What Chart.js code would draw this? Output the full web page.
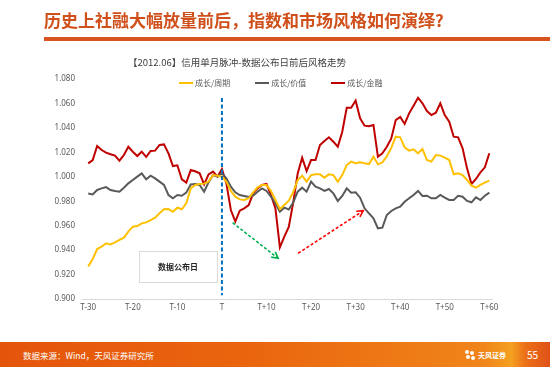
<!DOCTYPE html>
<html><head><meta charset="utf-8">
<script src="https://cdn.jsdelivr.net/npm/chart.js@4"></script>
<style>
html,body{margin:0;padding:0;background:#fff;}
#wrap{position:relative;width:550px;height:367px;overflow:hidden;font-family:"Noto Sans CJK SC","Noto Sans",sans-serif;background:#fff;}
#c{position:absolute;left:0;top:0;}
#title{position:absolute;left:44px;top:8px;font-size:17px;font-weight:bold;color:#D0501C;white-space:nowrap;line-height:24px;letter-spacing:0px;}
#bar{position:absolute;left:44px;top:37px;width:506px;height:4px;background:#D9531E;}
#sub{position:absolute;left:128px;top:55px;font-size:9.5px;color:#404040;white-space:nowrap;line-height:14px;}
#legend{position:absolute;left:179px;top:77px;height:12px;display:flex;align-items:center;white-space:nowrap;}
.li{display:flex;align-items:center;margin-right:25px;font-size:8px;color:#595959;line-height:12px;}
.sw{display:inline-block;width:14px;height:2px;margin-right:2px;}
#footer{position:absolute;left:0;top:342px;width:550px;height:25px;background:linear-gradient(90deg,#E4550C 0%,#EA650E 45%,#F0851A 88%,#F4A021 93%,#EC7018 95.5%,#DF5218 100%);}
#src{position:absolute;left:23px;top:7px;font-size:8.5px;color:#fff;white-space:nowrap;line-height:12px;}
#logo{position:absolute;left:465px;top:7px;height:12px;display:flex;align-items:center;}
#logo .ic{width:10px;height:10px;position:relative;margin-right:3px;}
#logo .ic i{position:absolute;background:#fff;border-radius:50%;width:4px;height:4px;}
#logo span{font-size:7px;color:#fff;font-weight:bold;line-height:10px;}
#pg{position:absolute;left:527px;top:6px;font-size:10px;color:#fff;line-height:13px;}
</style></head>
<body>
<div id="wrap">
  <canvas id="c" width="550" height="367"></canvas>
  <div id="title">历史上社融大幅放量前后，指数和市场风格如何演绎?</div>
  <div id="bar"></div>
  <div id="sub">【2012.06】信用单月脉冲-数据公布日前后风格走势</div>
  <div id="legend"></div>
  <div id="footer">
    <div id="src">数据来源：Wind，天风证券研究所</div>
    <div id="logo"><div class="ic"><i style="left:0;top:0"></i><i style="left:5px;top:1px"></i><i style="left:1px;top:5px"></i><i style="left:6px;top:6px"></i></div><span>天风证券</span></div>
    <div id="pg">55</div>
  </div>
</div>
<script>
// ---- data ----
const days = [-30,-29,-28,-27,-26,-25,-24,-23,-22,-21,-20,-19,-18,-17,-16,-15,-14,-13,-12,-11,-10,-9,-8,-7,-6,-5,-4,-3,-2,-1,
  0,1,2,3,4,5,6,7,8,9,10,11,12,13,14,15,16,17,18,19,20,21,22,23,24,25,26,27,28,29,30,
  31,32,33,34,35,36,37,38,39,40,41,42,43,44,45,46,47,48,49,50,51,52,53,54,55,56,57,58,59,60];

const seriesNames = ['成长/周期','成长/价值','成长/金融'];

const growthCycle = [0.9265,0.9327,0.9409,0.9428,0.9455,0.9447,0.9464,0.9483,0.9502,0.9551,0.9592,0.9597,0.9619,0.9627,0.9646,0.9665,0.9701,0.9734,0.9736,0.9714,0.9747,0.9734,0.9783,0.9905,0.9933,0.9941,0.9944,0.9960,1.0014,1.0009,
  1.0001,0.9960,0.9884,0.9837,0.9815,0.9810,0.9824,0.9873,0.9914,0.9933,0.9933,0.9884,0.9810,0.9736,0.9769,0.9805,0.9875,0.9974,1.0009,0.9960,1.0014,1.0020,1.0020,0.9993,1.0020,1.0014,0.9960,1.0014,1.0096,1.0124,1.0110,
  1.0118,1.0110,1.0104,1.0164,1.0102,1.0118,1.0168,1.0236,1.0328,1.0323,1.0241,1.0214,1.0225,1.0192,1.0227,1.0137,1.0124,1.0178,1.0173,1.0156,1.0137,1.0020,1.0028,1.0014,0.9974,0.9927,0.9911,0.9933,0.9952,0.9968];

const growthValue = [0.9864,0.9856,0.9892,0.9905,0.9916,0.9892,0.9884,0.9878,0.9911,0.9946,0.9974,1.0001,1.0028,0.9979,1.0009,0.9987,0.9960,0.9933,0.9851,0.9824,0.9851,0.9845,0.9870,0.9937,0.9941,0.9933,0.9878,0.9954,1.0014,1.0001,
  1.0028,0.9987,0.9919,0.9873,0.9851,0.9843,0.9834,0.9845,0.9878,0.9905,0.9884,0.9837,0.9783,0.9714,0.9747,0.9732,0.9790,0.9878,0.9911,0.9878,0.9960,0.9919,0.9905,0.9884,0.9900,0.9864,0.9802,0.9843,0.9905,0.9870,0.9873,
  0.9829,0.9742,0.9701,0.9660,0.9578,0.9584,0.9687,0.9720,0.9742,0.9755,0.9796,0.9824,0.9851,0.9884,0.9843,0.9845,0.9824,0.9824,0.9851,0.9829,0.9810,0.9810,0.9845,0.9837,0.9802,0.9791,0.9832,0.9810,0.9845,0.9870];

const growthFinance = [1.0110,1.0137,1.0252,1.0219,1.0197,1.0184,1.0173,1.0132,1.0178,1.0246,1.0205,1.0170,1.0205,1.0162,1.0211,1.0214,1.0260,1.0265,1.0192,1.0088,1.0094,0.9979,0.9952,1.0055,1.0045,1.0028,0.9938,1.0020,1.0042,1.0001,
  1.0064,0.9946,0.9728,0.9633,0.9723,0.9742,0.9769,0.9864,0.9905,0.9933,0.9941,0.9851,0.9742,0.9423,0.9510,0.9590,0.9790,1.0028,1.0156,1.0047,1.0137,1.0137,1.0260,1.0293,1.0323,1.0287,1.0246,1.0369,1.0565,1.0565,1.0623,
  1.0478,1.0418,1.0413,1.0424,1.0164,1.0192,1.0246,1.0314,1.0464,1.0489,1.0432,1.0519,1.0582,1.0647,1.0601,1.0538,1.0505,1.0524,1.0601,1.0505,1.0451,1.0328,1.0323,1.0233,1.0069,0.9941,0.9982,1.0036,1.0077,1.0192];

const xTickValues = [-30,-20,-10,0,10,20,30,40,50,60];
const xTickLabels = ['T-30','T-20','T-10','T','T+10','T+20','T+30','T+40','T+50','T+60'];
const yTickValues = [0.90,0.92,0.94,0.96,0.98,1.00,1.02,1.04,1.06,1.08];
const yTickLabels = ['0.900','0.920','0.940','0.960','0.980','1.000','1.020','1.040','1.060','1.080'];

// annotation anchors (data coordinates)
const releaseDay = 0;
const releaseLine = [1.0644, 0.9030];
const noteText = '数据公布日';
const noteBox = {x1:-18.6, x2:-1.1, y1:0.9393, y2:0.9139};
const downArrow = {x1:2.4, y1:0.9624, x2:12.6, y2:0.9333};
const upArrow = {x1:17.1, y1:0.9374, x2:31.7, y2:0.9722};

const colors = ['#FFC000','#595959','#C00000'];
const seriesValues = [growthCycle, growthValue, growthFinance];

// legend (HTML, built from series names)
const lg = document.getElementById('legend');
seriesNames.forEach((n,i)=>{
  const d = document.createElement('div'); d.className='li';
  const s = document.createElement('span'); s.className='sw'; s.style.background=colors[i];
  d.appendChild(s); d.appendChild(document.createTextNode(n)); lg.appendChild(d);
});

Chart.defaults.font.family = '"Noto Sans","Noto Sans CJK SC",sans-serif';

function arrow(ctx, x1, y1, x2, y2, color){
  ctx.save();
  ctx.strokeStyle = color; ctx.lineWidth = 1.6; ctx.setLineDash([3,2]);
  ctx.beginPath(); ctx.moveTo(x1,y1); ctx.lineTo(x2,y2); ctx.stroke();
  ctx.setLineDash([]);
  const a = Math.atan2(y2-y1, x2-x1), L = 7, w = 0.5;
  ctx.beginPath();
  ctx.moveTo(x2 - L*Math.cos(a-w), y2 - L*Math.sin(a-w));
  ctx.lineTo(x2, y2);
  ctx.lineTo(x2 - L*Math.cos(a+w), y2 - L*Math.sin(a+w));
  ctx.stroke();
  ctx.restore();
}

const annot = {
  id:'annot',
  afterDatasetsDraw(chart){
    const {ctx, scales:{x,y}} = chart;
    ctx.save();
    // note box
    const bx1 = x.getPixelForValue(noteBox.x1), bx2 = x.getPixelForValue(noteBox.x2);
    const by1 = y.getPixelForValue(noteBox.y1), by2 = y.getPixelForValue(noteBox.y2);
    ctx.fillStyle = '#fff'; ctx.fillRect(bx1, by1, bx2-bx1, by2-by1);
    ctx.strokeStyle = '#D9D9D9'; ctx.lineWidth = 1; ctx.strokeRect(bx1+0.5, by1+0.5, bx2-bx1, by2-by1);
    ctx.fillStyle = '#262626'; ctx.font = 'bold 8px "Noto Sans CJK SC"';
    ctx.textAlign = 'center'; ctx.textBaseline = 'middle';
    ctx.fillText(noteText, (bx1+bx2)/2, (by1+by2)/2);
    // release-day line
    const lx = x.getPixelForValue(releaseDay);
    ctx.strokeStyle = '#0070C0'; ctx.lineWidth = 2; ctx.setLineDash([4,2.5]);
    ctx.beginPath(); ctx.moveTo(lx, y.getPixelForValue(releaseLine[0])); ctx.lineTo(lx, y.getPixelForValue(releaseLine[1])); ctx.stroke();
    ctx.restore();
    arrow(ctx, x.getPixelForValue(downArrow.x1), y.getPixelForValue(downArrow.y1), x.getPixelForValue(downArrow.x2), y.getPixelForValue(downArrow.y2), '#00B050');
    arrow(ctx, x.getPixelForValue(upArrow.x1), y.getPixelForValue(upArrow.y1), x.getPixelForValue(upArrow.x2), y.getPixelForValue(upArrow.y2), '#FF0000');
  }
};

new Chart(document.getElementById('c'), {
  type:'line',
  data:{
    datasets: seriesNames.map((n,i)=>({
      label:n,
      data: days.map((d,k)=>({x:d, y:seriesValues[i][k]})),
      borderColor: colors[i], backgroundColor: colors[i],
      borderWidth: 2, pointRadius: 0, tension: 0, fill:false
    }))
  },
  options:{
    responsive:false, animation:false, devicePixelRatio:1,
    layout:{padding:{left:0,right:58,top:79,bottom:48}},
    plugins:{legend:{display:false}, tooltip:{enabled:false}, title:{display:false}},
    scales:{
      x:{type:'linear', min:-31.4, max:60.6,
        afterBuildTicks: s => { s.ticks = xTickValues.map(v=>({value:v})); },
        afterFit: s => { s.height = 20; },
        grid:{display:false, drawTicks:false},
        border:{display:true, color:'#D9D9D9', width:1},
        ticks:{autoSkip:false, maxRotation:0, padding:4, color:'#595959', font:{size:8},
          callback:(v)=>{ const i = xTickValues.indexOf(v); return i>=0 ? xTickLabels[i] : ''; }}
      },
      y:{min:0.9, max:1.08,
        afterBuildTicks: s => { s.ticks = yTickValues.map(v=>({value:v})); },
        afterFit: s => { s.width = 82; },
        grid:{display:false, drawTicks:false},
        border:{display:false},
        ticks:{padding:7, color:'#595959', font:{size:8},
          callback:(v)=>{ const i = yTickValues.findIndex(t=>Math.abs(t-v)<1e-9); return i>=0 ? yTickLabels[i] : ''; }}
      }
    }
  },
  plugins:[annot]
});
</script>
</body></html>
